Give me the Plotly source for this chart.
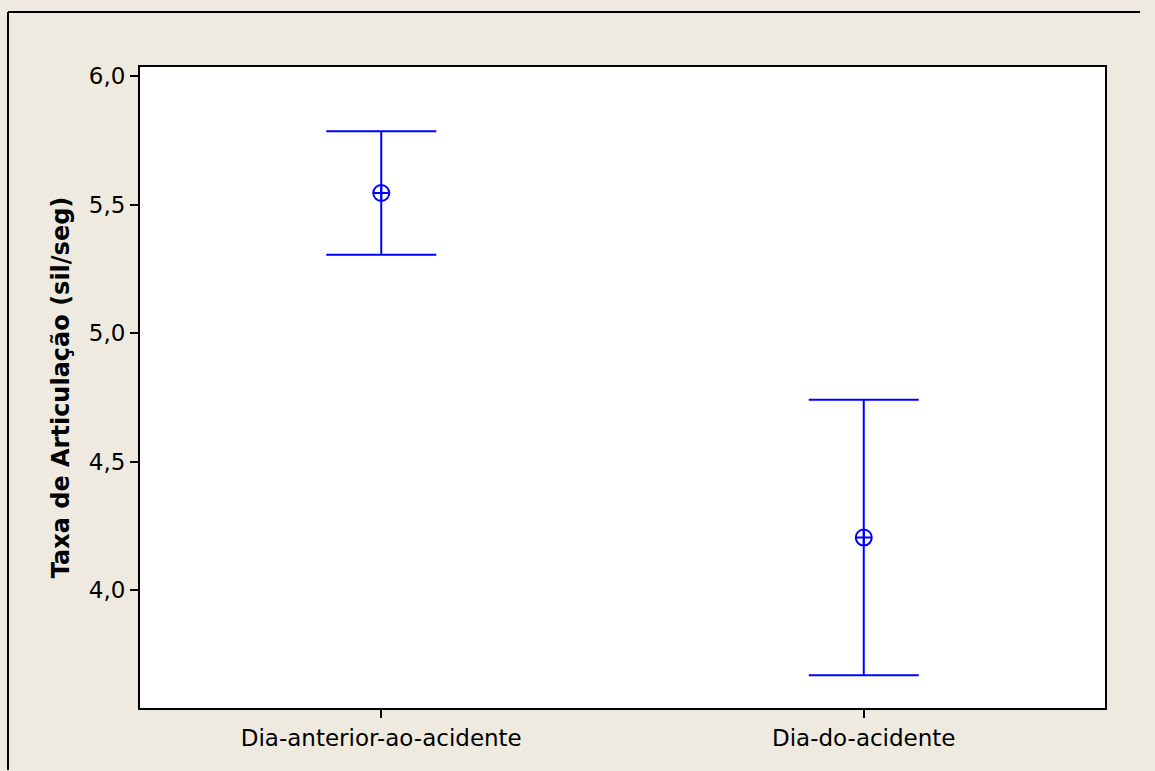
import plotly.graph_objects as go

# Interval plot: mean with 95% CI for articulation rate
categories = ["Dia-anterior-ao-acidente", "Dia-do-acidente"]
means = [5.545, 4.205]
ci_half = [0.240, 0.536]
y_ticks = [4.0, 4.5, 5.0, 5.5, 6.0]
y_tick_text = ["4,0", "4,5", "5,0", "5,5", "6,0"]

BLUE = "#0000FF"
BG = "#EEEAE0"
FONT = "DejaVu Sans, sans-serif"

fig = go.Figure()
fig.add_trace(go.Scatter(
    x=categories,
    y=means,
    mode="markers",
    marker=dict(symbol="circle-cross-open", size=16, color=BLUE,
                line=dict(color=BLUE, width=2)),
    error_y=dict(type="data", array=ci_half, visible=True,
                 color=BLUE, thickness=2, width=55),
    showlegend=False,
    hoverinfo="x+y",
))

axis_common = dict(
    showline=True, linecolor="black", linewidth=2, mirror=True,
    ticks="outside", ticklen=8, tickwidth=1.5, tickcolor="black",
    showgrid=False, zeroline=False,
    tickfont=dict(family=FONT, size=23, color="black"),
)

fig.update_layout(
    width=1155, height=771,
    margin=dict(l=140, r=50, t=67, b=63),
    paper_bgcolor=BG,
    plot_bgcolor="white",
    xaxis=dict(type="category", range=[-0.5, 1.5], **axis_common),
    yaxis=dict(range=[3.542, 6.035], tickvals=y_ticks, ticktext=y_tick_text,
               title=dict(text="<b>Taxa de Articulação (sil/seg)</b>",
                          font=dict(family=FONT, size=24, color="black"),
                          standoff=12),
               **axis_common),
)

# Frame of the graph window (top and left edges)
px_x = lambda p: (p - 140) / 965
px_y = lambda p: (708 - p) / 641
frame = dict(type="line", xref="paper", yref="paper",
             line=dict(color="black", width=2))
fig.add_shape(x0=px_x(8), x1=px_x(8), y0=px_y(770), y1=px_y(12), **frame)
fig.add_shape(x0=px_x(8), x1=px_x(1140), y0=px_y(12), y1=px_y(12), **frame)

fig.write_html("out.html")
